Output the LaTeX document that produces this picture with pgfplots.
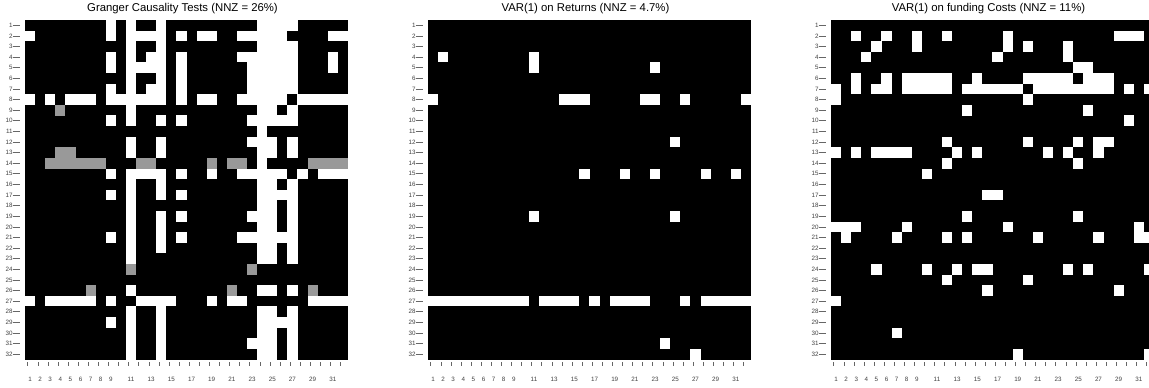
\documentclass[border=0pt]{standalone}
\usepackage{fontspec}
\setmainfont{Liberation Sans}
\usepackage{pgfplots}
\pgfplotsset{compat=1.18}

\definecolor{cellgrey}{RGB}{153,153,153}

% one filled cell of the 32 x 32 grid (axis box 242.25pt x 254.625pt)
\pgfdeclareplotmark{cell}{%
  \pgfpathrectangle{\pgfpoint{-3.81pt}{-4.0pt}}{\pgfpoint{7.62pt}{8.0pt}}%
  \pgfusepathqfill}

\pgfplotsset{
  panel/.style={
    scale only axis,
    width=242.25pt, height=254.625pt,
    xmin=0.5, xmax=32.5, ymin=0.5, ymax=32.5,
    enlargelimits=false,
    y dir=reverse,
    axis line style={draw=none},
    tick align=outside,
    xtick pos=left, ytick pos=left,
    /pgf/number format/assume math mode=true,
    ticklabel style={font=\fontsize{4.7}{5}\selectfont, text=black!75, inner sep=0pt},
    tick style={black!60, line width=0.55pt},
  },
  cells/.style={
    panel,
    xtick=\empty,
    ytick={1,...,32},
    yticklabels={1,2,3,4,5,6,7,8,9,10,11,12,13,14,15,16,17,18,19,20,21,22,23,24,25,26,27,28,29,30,31,32},
    major tick length=5.8pt,
    tick style={xshift=-1.7pt},
    yticklabel style={anchor=east},
    yticklabel shift=3.3pt,
    every axis title/.style={at={(0.5,1)}, anchor=base, yshift=6.4pt, xshift=-3pt,
      font=\fontsize{8.5}{10}\selectfont},
  },
  colticks/.style={
    panel,
    ytick=\empty,
    xtick={1,...,32},
    xticklabels={1,2,3,4,5,6,7,8,9,,11,,13,,15,,17,,19,,21,,23,,25,,27,,29,,31,},
    major tick length=3.2pt,
    tick style={yshift=-1.65pt},
    xticklabel style={anchor=north},
    xticklabel shift=10pt,
  },
  zeros/.style={fill=black, draw=none, mark=none},
  nonzero/.style={only marks, mark=cell, color=white, mark options={fill=white, draw=none}},
  partial/.style={only marks, mark=cell, color=cellgrey, mark options={fill=cellgrey, draw=none}},
}

\begin{document}
\begin{tikzpicture}
\path[use as bounding box] (-18.75pt,-20.625pt) rectangle (843pt,269.625pt);

% Granger causality tests: (column, row) of the non-zero entries
\begin{axis}[colticks, at={(0pt,0pt)}, anchor=south west]
\end{axis}
\begin{axis}[cells, at={(0pt,0pt)}, anchor=south west,
  title={Granger Causality Tests (NNZ = 26\%)}]
\addplot[zeros] coordinates {(0.5,0.5) (32.5,0.5) (32.5,32.5) (0.5,32.5)} -- cycle;
\addplot[nonzero] coordinates {
(9,1) (11,1) (14,1) (24,1) (25,1) (26,1) (27,1)
(1,2) (9,2) (11,2) (12,2) (13,2) (14,2) (16,2) (18,2) (19,2) (22,2) (23,2) (24,2) (25,2) (26,2) (31,2) (32,2)
(11,3) (14,3) (24,3) (25,3) (26,3) (27,3)
(9,4) (11,4) (13,4) (14,4) (16,4) (22,4) (23,4) (24,4) (25,4) (26,4) (27,4) (31,4)
(9,5) (11,5) (12,5) (13,5) (14,5) (16,5) (23,5) (24,5) (25,5) (26,5) (27,5) (31,5)
(11,6) (14,6) (16,6) (23,6) (24,6) (25,6) (26,6) (27,6)
(9,7) (11,7) (13,7) (14,7) (16,7) (23,7) (24,7) (25,7) (26,7) (27,7)
(1,8) (3,8) (5,8) (6,8) (7,8) (9,8) (10,8) (11,8) (12,8) (13,8) (14,8) (16,8) (18,8) (19,8) (22,8) (23,8) (24,8) (25,8) (26,8) (28,8) (29,8) (30,8) (31,8) (32,8)
(11,9) (24,9) (25,9) (27,9)
(9,10) (11,10) (14,10) (16,10) (23,10) (24,10) (25,10) (26,10) (27,10)
(24,11)
(11,12) (14,12) (23,12) (24,12) (25,12) (27,12)
(11,13) (14,13) (24,13) (25,13) (27,13)
(24,14)
(9,15) (11,15) (12,15) (13,15) (14,15) (16,15) (19,15) (22,15) (23,15) (24,15) (25,15) (26,15) (28,15) (30,15) (31,15) (32,15)
(11,16) (14,16) (24,16) (25,16) (27,16)
(9,17) (11,17) (14,17) (16,17) (24,17) (25,17) (26,17) (27,17)
(11,18) (24,18) (25,18) (27,18)
(11,19) (14,19) (16,19) (23,19) (24,19) (25,19) (27,19)
(11,20) (14,20) (24,20) (25,20) (27,20)
(9,21) (11,21) (14,21) (16,21) (22,21) (23,21) (24,21) (25,21) (26,21) (27,21)
(11,22) (14,22) (24,22) (25,22) (27,22)
(11,23) (24,23) (25,23) (27,23)
(11,26) (24,26) (25,26) (27,26)
(1,27) (3,27) (4,27) (5,27) (6,27) (7,27) (9,27) (12,27) (13,27) (14,27) (15,27) (19,27) (21,27) (22,27) (29,27) (30,27) (31,27) (32,27)
(11,28) (14,28) (24,28) (25,28) (27,28)
(9,29) (11,29) (14,29) (24,29) (25,29) (26,29) (27,29)
(11,30) (14,30) (24,30) (25,30) (27,30)
(11,31) (14,31) (23,31) (24,31) (25,31) (27,31)
(11,32) (14,32) (24,32) (25,32) (27,32)
};
\addplot[partial] coordinates {
(4,9) (4,13) (5,13)
(3,14) (4,14) (5,14) (6,14) (7,14) (8,14) (12,14) (13,14) (19,14) (21,14) (22,14) (29,14) (30,14) (31,14) (32,14)
(11,24) (23,24) (7,26) (21,26) (29,26)
};
\end{axis}

% VAR(1) on returns
\begin{axis}[colticks, at={(302.25pt,0pt)}, anchor=south west]
\end{axis}
\begin{axis}[cells, at={(302.25pt,0pt)}, anchor=south west,
  title={VAR(1) on Returns (NNZ = 4.7\%)}]
\addplot[zeros] coordinates {(0.5,0.5) (32.5,0.5) (32.5,32.5) (0.5,32.5)} -- cycle;
\addplot[nonzero] coordinates {
(2,4) (11,4)
(11,5) (23,5)
(1,8) (14,8) (15,8) (16,8) (22,8) (23,8) (26,8) (32,8)
(25,12)
(16,15) (20,15) (23,15) (28,15) (31,15)
(11,19) (25,19)
(1,27) (2,27) (3,27) (4,27) (5,27) (6,27) (7,27) (8,27) (9,27) (10,27) (12,27) (13,27) (14,27) (15,27) (17,27) (19,27) (20,27) (21,27) (22,27) (26,27) (28,27) (29,27) (30,27) (31,27) (32,27)
(24,31)
(27,32)
};
\end{axis}

% VAR(1) on funding costs
\begin{axis}[colticks, at={(604.5pt,0pt)}, anchor=south west]
\end{axis}
\begin{axis}[cells, at={(604.5pt,0pt)}, anchor=south west,
  title={VAR(1) on funding Costs (NNZ = 11\%)}]
\addplot[zeros] coordinates {(0.5,0.5) (32.5,0.5) (32.5,32.5) (0.5,32.5)} -- cycle;
\addplot[nonzero] coordinates {
(3,2) (6,2) (9,2) (12,2) (18,2) (29,2) (30,2) (31,2)
(5,3) (9,3) (18,3) (20,3) (24,3)
(4,4) (17,4) (24,4)
(25,5) (26,5)
(3,6) (6,6) (8,6) (9,6) (10,6) (11,6) (12,6) (15,6) (20,6) (21,6) (22,6) (23,6) (24,6) (26,6) (27,6) (28,6)
(1,7) (3,7) (5,7) (6,7) (8,7) (9,7) (10,7) (11,7) (12,7) (14,7) (15,7) (16,7) (17,7) (18,7) (19,7) (21,7) (22,7) (23,7) (24,7) (25,7) (26,7) (27,7) (28,7) (30,7) (32,7)
(1,8) (20,8)
(14,9) (26,9)
(30,10)
(12,12) (20,12) (25,12) (27,12) (28,12)
(1,13) (3,13) (5,13) (6,13) (7,13) (8,13) (13,13) (15,13) (22,13) (24,13) (27,13)
(12,14) (25,14)
(10,15)
(16,17) (17,17)
(14,19) (25,19)
(1,20) (2,20) (3,20) (8,20) (18,20) (31,20)
(2,21) (7,21) (12,21) (14,21) (21,21) (27,21) (31,21) (32,21)
(5,24) (10,24) (13,24) (15,24) (16,24) (24,24) (26,24) (32,24)
(12,25) (20,25)
(16,26) (29,26)
(1,27)
(7,30)
(19,32) (32,32)
};
\end{axis}
\end{tikzpicture}
\end{document}
